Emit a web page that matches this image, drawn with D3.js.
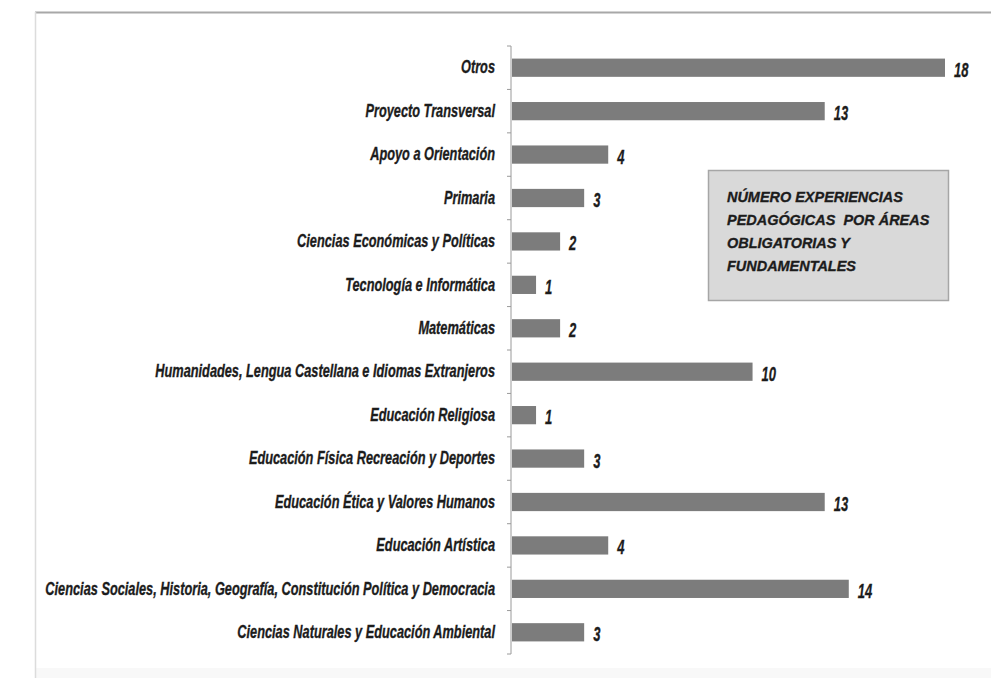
<!DOCTYPE html>
<html>
<head>
<meta charset="utf-8">
<script src="https://cdn.jsdelivr.net/npm/d3@7"></script>
<style>
  html, body { margin: 0; padding: 0; background: #ffffff; }
  svg { display: block; }
  .lbl { font-family: "Liberation Sans", Arial, sans-serif; font-weight: bold; font-style: italic; fill: #1c1c1c; stroke: #1c1c1c; stroke-width: 0.35px; }
</style>
</head>
<body>
<svg id="chart" width="991" height="678"></svg>
<script>
const categories = [
  "Otros",
  "Proyecto Transversal",
  "Apoyo a Orientación",
  "Primaria",
  "Ciencias Económicas y Políticas",
  "Tecnología e Informática",
  "Matemáticas",
  "Humanidades, Lengua Castellana e Idiomas Extranjeros",
  "Educación Religiosa",
  "Educación Física Recreación y Deportes",
  "Educación Ética y Valores Humanos",
  "Educación Artística",
  "Ciencias Sociales, Historia, Geografía, Constitución Política y Democracia",
  "Ciencias Naturales y Educación Ambiental"
];
const values = [18, 13, 4, 3, 2, 1, 2, 10, 1, 3, 13, 4, 14, 3];
const legendLines = [
  "NÚMERO EXPERIENCIAS",
  "PEDAGÓGICAS  POR ÁREAS",
  "OBLIGATORIAS Y",
  "FUNDAMENTALES"
];

const svg = d3.select("#chart");

// panel frame
svg.append("rect").attr("x", 36).attr("y", 668).attr("width", 955).attr("height", 10).attr("fill", "#f8f8f8");
svg.append("line").attr("x1", 35).attr("x2", 991).attr("y1", 12.5).attr("y2", 12.5)
  .attr("stroke", "#a8a8a8").attr("stroke-width", 2);
svg.append("line").attr("x1", 35.5).attr("x2", 35.5).attr("y1", 12).attr("y2", 678)
  .attr("stroke", "#dcdcdc").attr("stroke-width", 1.5);

const x0 = 512;
const x = d3.scaleLinear().domain([0, 18]).range([x0, 945]);
const y = d3.scaleBand().domain(categories).range([46, 654]).paddingInner(0.58).paddingOuter(0.29);
const step = y.step();

// axis line
svg.append("line").attr("x1", x0 - 1).attr("x2", x0 - 1)
  .attr("y1", y.range()[0]).attr("y2", y.range()[1])
  .attr("stroke", "#9a9a9a").attr("stroke-width", 1);

// tick marks at category boundaries
const bounds = d3.range(categories.length + 1).map(i => y.range()[0] + i * step);
svg.selectAll(".tk").data(bounds).join("line")
  .attr("x1", x0 - 5).attr("x2", x0 - 1)
  .attr("y1", d => d).attr("y2", d => d)
  .attr("stroke", "#9a9a9a").attr("stroke-width", 1);

// category labels via axis
const pad = 17;
const axis = d3.axisLeft(y).tickSize(0).tickPadding(pad);
const gAxis = svg.append("g").attr("transform", `translate(${x0},0)`).call(axis);
gAxis.select(".domain").remove();
const catText = gAxis.selectAll("text").attr("class", "lbl").attr("font-size", 18).attr("fill", "#1c1c1c");
// compress horizontally to mimic the condensed face of the original
let maxW = 0;
catText.each(function () { maxW = Math.max(maxW, this.getComputedTextLength()); });
const sx = 450 / maxW;
catText.attr("x", 0).attr("transform", `translate(${-pad},0) scale(${sx},1)`);

// bars
svg.selectAll(".bar").data(values).join("rect")
  .attr("x", x(0))
  .attr("y", (d, i) => y(categories[i]))
  .attr("width", d => x(d) - x(0))
  .attr("height", y.bandwidth())
  .attr("fill", "#7c7c7c");

// value labels
svg.selectAll(".val").data(values).join("text")
  .attr("class", "lbl")
  .attr("transform", (d, i) => `translate(${x(d) + 9},${y(categories[i]) + y.bandwidth() / 2 + 1}) scale(0.62,1)`)
  .attr("dy", "0.38em")
  .attr("font-size", 21)
  .text(d => d);

// legend box
const lg = svg.append("g");
lg.append("rect").attr("x", 708.5).attr("y", 170.5).attr("width", 240).attr("height", 130)
  .attr("fill", "#d9d9d9").attr("stroke", "#a6a6a6").attr("stroke-width", 1.5);
const lt = lg.selectAll("text").data(legendLines).join("text")
  .attr("class", "lbl")
  .attr("font-size", 15)
  .attr("dy", "0.36em")
  .attr("xml:space", "preserve")
  .style("white-space", "pre")
  .text(d => d);
const w0 = lt.nodes()[0].getComputedTextLength();
const lsx = 176 / w0;
lt.attr("transform", (d, i) => `translate(727,${197 + i * 22.7}) scale(${lsx},1)`);
</script>
</body>
</html>
